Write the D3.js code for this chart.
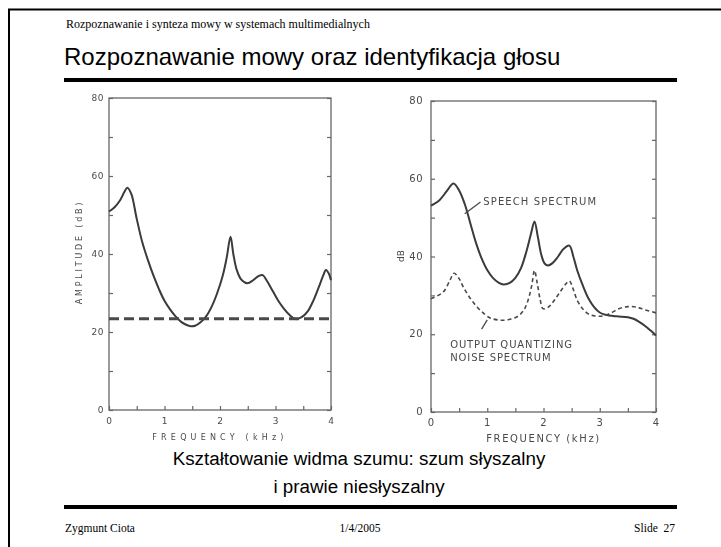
<!DOCTYPE html>
<html>
<head>
<meta charset="utf-8">
<script src="https://cdn.jsdelivr.net/npm/d3@7"></script>
<style>
  body { margin:0; background:#fff; }
  .serif { font-family:"Liberation Serif", "Times New Roman", serif; }
  .sans { font-family:"Liberation Sans", Arial, sans-serif; }
  .scan text { font-family:"DejaVu Sans", sans-serif; fill:#4a4a4a; }
</style>
</head>
<body>
<div id="canvas"></div>
<script>
// data (frequency kHz, level dB)
var freqTicks = [0, 1, 2, 3, 4];
var dbTicks = [0, 20, 40, 60, 80];

var leftSpeechF = [0, 0.1, 0.2, 0.28, 0.33, 0.4, 0.5, 0.6, 0.7, 0.8, 0.9, 1.0, 1.1, 1.2, 1.3, 1.4, 1.47, 1.55, 1.65, 1.75, 1.85, 1.95, 2.05, 2.12, 2.19, 2.24, 2.3, 2.38, 2.49, 2.6, 2.7, 2.77, 2.85, 2.95, 3.05, 3.15, 3.25, 3.36, 3.47, 3.58, 3.68, 3.78, 3.86, 3.91, 3.96, 4.0];
var leftSpeechDb = [50.9, 52, 53.8, 56, 57, 55.5, 49, 43, 38.5, 34.5, 31, 28, 25.8, 24, 22.6, 21.8, 21.5, 21.6, 22.5, 24, 26.5, 30, 34.5, 39, 44.4, 40, 36, 33.5, 32.5, 33.3, 34.4, 34.6, 33, 30.5, 28, 26, 24.4, 23.3, 23.8, 25.3, 28, 31.5, 34.5, 35.9, 35, 33.3];
var noiseFloorDb = 23.4;

var rightSpeechF = [0, 0.15, 0.28, 0.4, 0.5, 0.6, 0.7, 0.8, 0.9, 1.0, 1.1, 1.2, 1.29, 1.4, 1.5, 1.6, 1.7, 1.78, 1.84, 1.9, 1.96, 2.02, 2.08, 2.16, 2.26, 2.36, 2.46, 2.53, 2.6, 2.7, 2.8, 2.9, 3.0, 3.1, 3.3, 3.5, 3.6, 3.7, 3.8, 3.9, 4.0];
var rightSpeechDb = [53.1, 54.5, 56.8, 58.8, 57, 53.5, 48.5, 43.5, 39.5, 36.5, 34.5, 33.3, 32.8, 33.2, 34.5, 37, 41.5, 46, 49, 45, 40.5, 38.2, 37.7, 38.3, 40, 42, 42.8, 40, 36.4, 32.5, 29.2, 27, 25.6, 25, 24.6, 24.4, 24, 23.2, 22.2, 21, 19.7];

var rightNoiseF = [0, 0.22, 0.34, 0.41, 0.5, 0.58, 0.7, 0.82, 0.95, 1.05, 1.18, 1.29, 1.42, 1.53, 1.64, 1.72, 1.79, 1.84, 1.89, 1.94, 1.99, 2.08, 2.18, 2.3, 2.4, 2.46, 2.53, 2.6, 2.7, 2.8, 2.92, 3.05, 3.2, 3.35, 3.5, 3.65, 3.8, 4.0];
var rightNoiseDb = [29.1, 30.9, 34, 35.7, 34.3, 32, 29.2, 27, 25.2, 24.2, 23.7, 23.6, 23.9, 24.5, 26, 28.5, 32.5, 36.4, 33, 29, 26.6, 26.9, 28.5, 31, 33, 33.7, 31.5, 28.7, 26.5, 25.2, 24.7, 24.7, 25.5, 26.6, 27.1, 27, 26.3, 25.5];

var W = 721, H = 547;
var svg = d3.select('#canvas').append('svg')
    .attr('width', W).attr('height', H);

// slide frame
svg.append('rect').attr('x', 9).attr('y', 9.5)
    .attr('width', 740).attr('height', 560)
    .attr('fill', 'none').attr('stroke', '#000').attr('stroke-width', 2);

svg.append('text').attr('class', 'serif').attr('x', 66).attr('y', 28)
    .attr('font-size', 12).text('Rozpoznawanie i synteza mowy w systemach multimedialnych');
svg.append('text').attr('class', 'sans').attr('x', 64).attr('y', 65)
    .attr('font-size', 24).text('Rozpoznawanie mowy oraz identyfikacja głosu');
svg.append('rect').attr('x', 64).attr('y', 78).attr('width', 613).attr('height', 4).attr('fill', '#000');

// caption + footer
svg.append('text').attr('class', 'sans').attr('x', 359).attr('y', 465)
    .attr('text-anchor', 'middle').attr('font-size', 18.8).text('Kształtowanie widma szumu: szum słyszalny');
svg.append('text').attr('class', 'sans').attr('x', 359).attr('y', 493)
    .attr('text-anchor', 'middle').attr('font-size', 18.8).text('i prawie niesłyszalny');
svg.append('rect').attr('x', 64).attr('y', 505).attr('width', 613).attr('height', 4).attr('fill', '#000');
svg.append('text').attr('class', 'serif').attr('x', 65).attr('y', 532).attr('font-size', 11.5).text('Zygmunt Ciota');
svg.append('text').attr('class', 'serif').attr('x', 360).attr('y', 532).attr('text-anchor', 'middle').attr('font-size', 11.5).text('1/4/2005');
svg.append('text').attr('class', 'serif').attr('x', 675).attr('y', 532).attr('text-anchor', 'end').attr('font-size', 11.5)
    .attr('xml:space', 'preserve').text('Slide  27');

// soft blur to imitate the scanned figure
var defs = svg.append('defs');
defs.append('filter').attr('id', 'scan').append('feGaussianBlur').attr('stdDeviation', 0.55);

function zip(fs, vs) { return fs.map(function(f, i) { return [f, vs[i]]; }); }

function panel(box, opts) {
  var x = d3.scaleLinear().domain([0, 4]).range([box.l, box.r]);
  var y = d3.scaleLinear().domain([0, 80]).range([box.b, box.t]);
  var g = svg.append('g').attr('class', 'scan').attr('filter', 'url(#scan)');

  // frame
  g.append('rect').attr('x', box.l).attr('y', box.t)
      .attr('width', box.r - box.l).attr('height', box.b - box.t)
      .attr('fill', 'none').attr('stroke', '#666').attr('stroke-width', 1.3);

  // inward ticks
  var left = d3.axisRight(y).tickValues(d3.range(0, 81, 10)).tickSize(4).tickFormat('');
  var right = d3.axisLeft(y).tickValues(d3.range(0, 81, 10)).tickSize(4).tickFormat('');
  var bottom = d3.axisTop(x).tickValues(d3.range(0, 4.01, 0.5)).tickSize(4).tickFormat('');
  [g.append('g').attr('transform', 'translate(' + box.l + ',0)').call(left),
   g.append('g').attr('transform', 'translate(' + box.r + ',0)').call(right),
   g.append('g').attr('transform', 'translate(0,' + box.b + ')').call(bottom)]
    .forEach(function(a) {
      a.select('.domain').remove();
      a.selectAll('line').attr('stroke', '#666').attr('stroke-width', 1.2);
    });

  // tick labels
  g.selectAll('.ylab').data(dbTicks).enter().append('text')
      .attr('x', box.l - opts.yOff).attr('y', function(d) { return y(d) + 3; })
      .attr('text-anchor', 'end').attr('font-size', opts.fs)
      .attr('letter-spacing', 0.5).text(function(d) { return d; });
  g.selectAll('.xlab').data(freqTicks).enter().append('text')
      .attr('x', function(d) { return x(d); }).attr('y', box.b + 14)
      .attr('text-anchor', 'middle').attr('font-size', opts.fs).text(function(d) { return d; });

  g.append('text').attr('x', (box.l + box.r) / 2).attr('y', box.b + 30)
      .attr('text-anchor', 'middle').attr('font-size', opts.lfs)
      .attr('letter-spacing', opts.ls).text('FREQUENCY (kHz)');
  return { g: g, x: x, y: y };
}

var line = function(p) {
  return d3.line().x(function(d) { return p.x(d[0]); }).y(function(d) { return p.y(d[1]); })
      .curve(d3.curveCatmullRom.alpha(0.5));
};

// left panel
var pl = panel({ l: 109, r: 331, t: 98, b: 410 }, { fs: 9, yOff: 5, ls: 4.2, lfs: 8 });
pl.g.append('path').datum(zip(leftSpeechF, leftSpeechDb)).attr('d', line(pl))
    .attr('fill', 'none').attr('stroke', '#3a3a3a').attr('stroke-width', 2);
pl.g.append('line').attr('x1', pl.x(0)).attr('x2', pl.x(4))
    .attr('y1', pl.y(noiseFloorDb)).attr('y2', pl.y(noiseFloorDb))
    .attr('stroke', '#4a4a4a').attr('stroke-width', 3).attr('stroke-dasharray', '10,5');
pl.g.append('text').attr('transform', 'translate(82,252) rotate(-90)')
    .attr('text-anchor', 'middle').attr('font-size', 8).attr('letter-spacing', 2.8)
    .text('AMPLITUDE (dB)');

// right panel
var pr = panel({ l: 431, r: 656, t: 101, b: 412 }, { fs: 10, yOff: 8, ls: 1.6, lfs: 10 });
pr.g.append('path').datum(zip(rightSpeechF, rightSpeechDb)).attr('d', line(pr))
    .attr('fill', 'none').attr('stroke', '#3a3a3a').attr('stroke-width', 2);
pr.g.append('path').datum(zip(rightNoiseF, rightNoiseDb)).attr('d', line(pr))
    .attr('fill', 'none').attr('stroke', '#4a4a4a').attr('stroke-width', 1.6).attr('stroke-dasharray', '4,3');
pr.g.append('text').attr('transform', 'translate(404,256) rotate(-90)')
    .attr('text-anchor', 'middle').attr('font-size', 9).text('dB');

// annotations
pr.g.append('line').attr('x1', pr.x(0.6)).attr('y1', pr.y(51)).attr('x2', pr.x(0.88)).attr('y2', pr.y(54))
    .attr('stroke', '#4a4a4a').attr('stroke-width', 1.3);
pr.g.append('text').attr('x', pr.x(0.93)).attr('y', pr.y(53.2)).attr('font-size', 10)
    .attr('letter-spacing', 1.1).text('SPEECH SPECTRUM');
pr.g.append('line').attr('x1', pr.x(0.9)).attr('y1', pr.y(21.3)).attr('x2', pr.x(1.0)).attr('y2', pr.y(23.7))
    .attr('stroke', '#4a4a4a').attr('stroke-width', 1.3);
pr.g.append('text').attr('x', pr.x(0.34)).attr('y', pr.y(16.4)).attr('font-size', 10)
    .attr('letter-spacing', 0.9).text('OUTPUT QUANTIZING');
pr.g.append('text').attr('x', pr.x(0.34)).attr('y', pr.y(13.2)).attr('font-size', 10)
    .attr('letter-spacing', 0.9).text('NOISE SPECTRUM');
</script>
</body>
</html>
